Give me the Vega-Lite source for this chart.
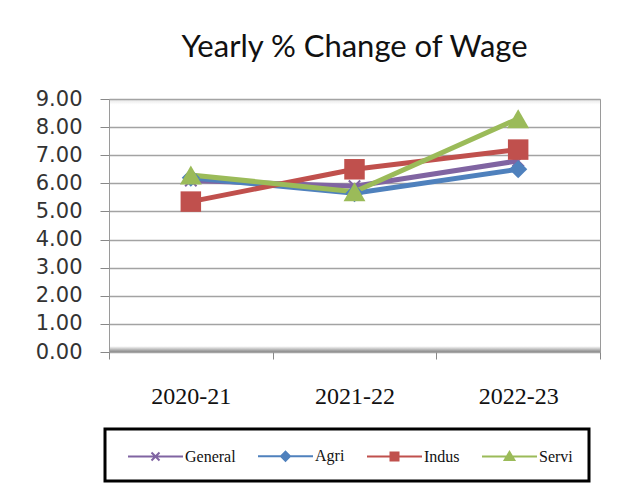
{
  "$schema": "https://vega.github.io/schema/vega-lite/v6.json",
  "autosize": "none",
  "padding": {"left": 109, "top": 99, "right": 22, "bottom": 145},
  "width": 491,
  "height": 253,
  "background": "white",
  "title": {
    "text": "Yearly % Change of Wage",
    "font": "Lato",
    "fontSize": 31,
    "fontWeight": "normal",
    "color": "#111111",
    "anchor": "middle",
    "offset": 24
  },
  "data": {
    "values": [
      {"year": "2020-21", "series": "General", "value": 6.1},
      {"year": "2021-22", "series": "General", "value": 5.9},
      {"year": "2022-23", "series": "General", "value": 6.8},
      {"year": "2020-21", "series": "Agri", "value": 6.2},
      {"year": "2021-22", "series": "Agri", "value": 5.65},
      {"year": "2022-23", "series": "Agri", "value": 6.5},
      {"year": "2020-21", "series": "Indus", "value": 5.35},
      {"year": "2021-22", "series": "Indus", "value": 6.5},
      {"year": "2022-23", "series": "Indus", "value": 7.2},
      {"year": "2020-21", "series": "Servi", "value": 6.3},
      {"year": "2021-22", "series": "Servi", "value": 5.7},
      {"year": "2022-23", "series": "Servi", "value": 8.3}
    ]
  },
  "encoding": {
    "x": {
      "field": "year",
      "type": "nominal",
      "scale": {"type": "band", "paddingInner": 0, "paddingOuter": 0},
      "axis": {
        "title": null,
        "labelAngle": 0,
        "domain": false,
        "grid": false,
        "tickBand": "extent",
        "tickSize": 7,
        "tickColor": "#888888",
        "labelFont": "Liberation Serif",
        "labelFontSize": 24,
        "labelColor": "#111111",
        "labelPadding": 25
      }
    },
    "y": {
      "field": "value",
      "type": "quantitative",
      "scale": {"domain": [0, 9], "nice": false, "zero": true},
      "axis": {
        "title": null,
        "values": [0, 1, 2, 3, 4, 5, 6, 7, 8, 9],
        "format": ".2f",
        "domain": false,
        "tickSize": 9,
        "tickColor": "#888888",
        "gridColor": "#a3a3a3",
        "gridWidth": 1.6,
        "labelFont": "DejaVu Sans",
        "labelFontSize": 21,
        "labelColor": "#333333",
        "labelPadding": 18
      }
    },
    "color": {
      "field": "series",
      "type": "nominal",
      "scale": {
        "domain": ["General", "Agri", "Indus", "Servi"],
        "range": ["#8064A2", "#4F81BD", "#C0504D", "#9BBB59"]
      },
      "legend": {
        "title": null,
        "orient": "none",
        "legendX": -4,
        "legendY": 330,
        "direction": "horizontal",
        "columns": 4,
        "columnPadding": 15,
        "padding": 16,
        "symbolSize": 400,
        "symbolType": "square",
        "labelOffset": 42,
        "labelFont": "Liberation Serif",
        "labelFontSize": 16,
        "labelColor": "#111111",
        "labelLimit": 200,
        "strokeColor": "#000000",
        "encode": {
          "legend": {"update": {"strokeWidth": {"value": 3}}},
          "symbols": {
            "update": {
              "shape": {"signal": "datum.value === 'General' ? 'M-0.4,0H5.1M1.95,-0.4L2.75,0.4M1.95,0.4L2.75,-0.4' : datum.value === 'Agri' ? 'M-0.4,0H5.1M2.35,-0.45L2.8,0L2.35,0.45L1.9,0Z' : datum.value === 'Indus' ? 'M-0.4,0H5.1M1.95,-0.4H2.75V0.4H1.95Z' : 'M-0.4,0H5.1M2.35,-0.45L2.83,0.35H1.87Z'"},
              "fill": {"signal": "scale('color', datum.value)"},
              "stroke": {"signal": "scale('color', datum.value)"},
              "strokeWidth": {"value": 2},
              "opacity": {"value": 1},
              "fillOpacity": {"value": 1}
            }
          }
        }
      }
    }
  },
  "layer": [
    {
      "mark": {"type": "line", "strokeWidth": 5}
    },
    {
      "transform": [{"filter": "datum.series === 'General'"}],
      "mark": {"type": "point", "shape": "M-1,-1L1,1M-1,1L1,-1", "size": 130, "filled": false, "strokeWidth": 2, "opacity": 1}
    },
    {
      "transform": [{"filter": "datum.series === 'Agri'"}],
      "mark": {"type": "point", "shape": "diamond", "size": 330, "filled": true, "opacity": 1}
    },
    {
      "transform": [{"filter": "datum.series === 'Indus'"}],
      "mark": {"type": "point", "shape": "square", "size": 420, "filled": true, "opacity": 1}
    },
    {
      "transform": [{"filter": "datum.series === 'Servi'"}],
      "mark": {"type": "point", "shape": "triangle-up", "size": 480, "filled": true, "opacity": 1}
    }
  ],
  "config": {
    "view": {
      "stroke": "#9a9a9a",
      "strokeWidth": 1,
      "fill": {
        "gradient": "linear",
        "x1": 0, "y1": 0, "x2": 0, "y2": 1,
        "stops": [
          {"offset": 0, "color": "#e6e6e6"},
          {"offset": 0.02, "color": "#ffffff"},
          {"offset": 0.975, "color": "#ffffff"},
          {"offset": 1, "color": "#7a7a7a"}
        ]
      }
    }
  }
}
